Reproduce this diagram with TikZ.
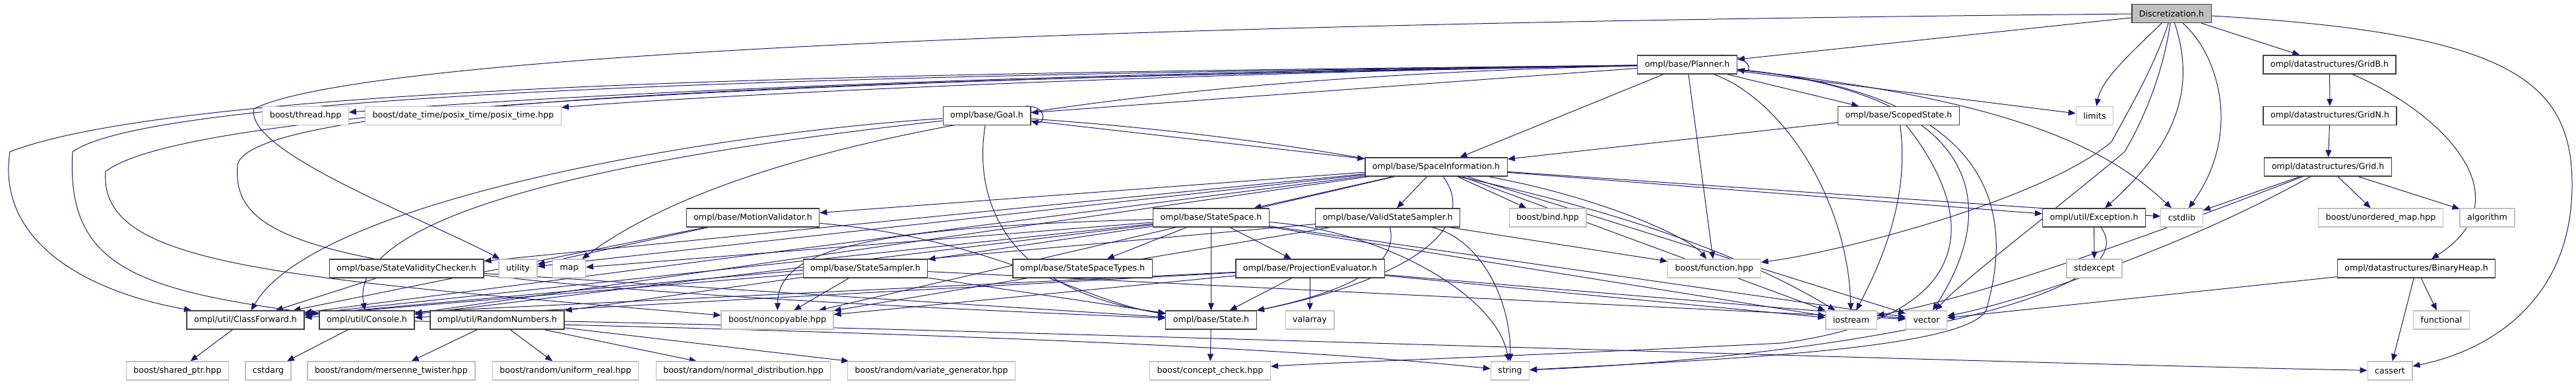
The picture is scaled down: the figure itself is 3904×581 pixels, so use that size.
\documentclass[tikz,border=0pt]{standalone}
\usepackage{fontspec}
\setmainfont{DejaVu Sans}
\usetikzlibrary{arrows.meta, backgrounds}
\definecolor{edgeblue}{HTML}{191970}
\definecolor{sysgray}{HTML}{BFBFBF}

\begin{document}
\begin{tikzpicture}[
    x=1pt, y=-1pt,
    box/.style={rectangle, line width=1.3pt, fill=white, minimum height=28pt, inner xsep=11pt, inner ysep=0pt, font=\fontsize{12.6}{14}\selectfont},
    hdr/.style={box, draw=black!75},
    sys/.style={box, draw=sysgray},
    root/.style={box, draw=black!75, fill=sysgray},
    dep/.style={draw=edgeblue, line width=1pt, -{Triangle[length=11pt,width=9pt]}}
]
    \useasboundingbox (0,0) rectangle (3904,581);

    % Root
    \node[root] (disc) at (3291,20.5) {Discretization.h};

    % Rank 1 and 2
    \node[hdr] (planner) at (2557,98) {ompl/base/Planner.h};
    \node[hdr] (gridb) at (3530.5,98) {ompl/datastructures/GridB.h};
    \node[sys] (thread) at (463,175.5) {boost/thread.hpp};
    \node[sys] (posix) at (702,175.5) {boost/date\_time/posix\_time/posix\_time.hpp};
    \node[hdr] (goal) at (1495.5,175.5) {ompl/base/Goal.h};
    \node[hdr] (scoped) at (2877.5,175.5) {ompl/base/ScopedState.h};
    \node[sys] (limits) at (3174.5,175.5) {limits};
    \node[hdr] (gridn) at (3531,175.5) {ompl/datastructures/GridN.h};

    % Rank 3 and 4
    \node[hdr] (spaceinfo) at (2176.5,253) {ompl/base/SpaceInformation.h};
    \node[hdr] (grid) at (3528,253) {ompl/datastructures/Grid.h};
    \node[hdr] (motion) at (1141,330) {ompl/base/MotionValidator.h};
    \node[hdr] (statespace) at (1835.5,330) {ompl/base/StateSpace.h};
    \node[hdr] (validsampler) at (2103,330) {ompl/base/ValidStateSampler.h};
    \node[sys] (bind) at (2345.5,330) {boost/bind.hpp};
    \node[hdr] (exception) at (3173.5,330) {ompl/util/Exception.h};
    \node[sys] (cstdlib) at (3306.5,330) {cstdlib};
    \node[sys] (umap) at (3608,330) {boost/unordered\_map.hpp};
    \node[sys] (algorithm) at (3769.5,330) {algorithm};

    % Rank 5
    \node[hdr] (svc) at (616,407) {ompl/base/StateValidityChecker.h};
    \node[sys] (utility) at (785,407) {utility};
    \node[sys] (map) at (862.5,407) {map};
    \node[hdr] (sampler) at (1311.5,407) {ompl/base/StateSampler.h};
    \node[hdr] (sstypes) at (1640.5,407) {ompl/base/StateSpaceTypes.h};
    \node[hdr] (projection) at (1985.5,407) {ompl/base/ProjectionEvaluator.h};
    \node[sys] (function) at (2598,407) {boost/function.hpp};
    \node[sys] (stdexcept) at (3174,407) {stdexcept};
    \node[hdr] (binheap) at (3662,407) {ompl/datastructures/BinaryHeap.h};

    % Rank 6
    \node[hdr] (classfwd) at (372,485) {ompl/util/ClassForward.h};
    \node[hdr] (console) at (556,485) {ompl/util/Console.h};
    \node[hdr] (random) at (753.5,485) {ompl/util/RandomNumbers.h};
    \node[sys] (noncopy) at (1178,485) {boost/noncopyable.hpp};
    \node[hdr] (state) at (1835.5,485) {ompl/base/State.h};
    \node[sys] (valarray) at (1985,485) {valarray};
    \node[sys] (iostream) at (2805.5,485) {iostream};
    \node[sys] (vector) at (2919.5,485) {vector};
    \node[sys] (functional) at (3700,485) {functional};

    % Rank 7
    \node[sys] (sharedptr) at (269,562) {boost/shared\_ptr.hpp};
    \node[sys] (cstdarg) at (406.5,562) {cstdarg};
    \node[sys] (mersenne) at (593,562) {boost/random/mersenne\_twister.hpp};
    \node[sys] (uniform) at (857,562) {boost/random/uniform\_real.hpp};
    \node[sys] (normal) at (1126.5,562) {boost/random/normal\_distribution.hpp};
    \node[sys] (variate) at (1411.5,562) {boost/random/variate\_generator.hpp};
    \node[sys] (concept) at (1834,562) {boost/concept\_check.hpp};
    \node[sys] (string) at (2288.5,562) {string};
    \node[sys] (cassert) at (3622,562) {cassert};

    \begin{scope}[on background layer]
    % Discretization.h
    \draw[dep] (disc) -- (planner);
    \draw[dep] (disc) -- (gridb);
    \draw[dep] (disc) .. controls (1200,40) and (500,105) .. (385,165) .. controls (370,230) and (640,330) .. (utility);
    \draw[dep] (disc) .. controls (3230,80) and (3185,120) .. (limits);
    \draw[dep] (disc) .. controls (3360,80) and (3400,200) .. (cstdlib);
    \draw[dep] (disc) .. controls (3320,110) and (3320,200) .. (exception);
    \draw[dep] (disc) .. controls (3280,100) and (3255,170) .. (3220,230) .. controls (3100,330) and (2980,420) .. (vector);
    \draw[dep] (disc) .. controls (3265,100) and (3230,160) .. (3200,215) .. controls (3100,300) and (2800,380) .. (function);
    \draw[dep] (disc) .. controls (3800,50) and (3898,120) .. (3898,280) .. controls (3898,450) and (3780,530) .. (cassert);

    % Planner.h
    \draw[dep] ([xshift=-25pt]planner.north east) .. controls +(45,0) and +(25,6) .. ([yshift=-7pt]planner.east);
    \draw[dep] (planner) -- (goal);
    \draw[dep] (planner) -- (spaceinfo);
    \draw[dep] (planner) -- (scoped);
    \draw[dep] (planner) -- (limits);
    \draw[dep] (planner) -- (function);
    \draw[dep] (planner) .. controls (2700,150) and (2800,300) .. (iostream);
    \draw[dep] (planner) .. controls (2990,140) and (3040,300) .. (vector);
    \draw[dep] (planner) .. controls (3060,150) and (3200,230) .. (cstdlib);
    \draw[dep] (planner) .. controls (3000,140) and (3060,300) .. (3010,470) .. controls (2980,530) and (2600,545) .. (string);
    \draw[dep] (planner) .. controls (1600,110) and (900,140) .. (thread);
    \draw[dep] (planner) .. controls (1600,115) and (1000,150) .. (posix);
    \draw[dep] (planner) .. controls (1500,110) and (300,120) .. (15,230) .. controls (-5,360) and (120,440) .. (classfwd);
    \draw[dep] (planner) .. controls (1500,112) and (250,130) .. (110,230) .. controls (100,400) and (200,440) .. (console);
    \draw[dep] (planner) .. controls (1500,115) and (300,150) .. (160,260) .. controls (150,400) and (400,420) .. (noncopy);
    \draw[dep] (planner) .. controls (1500,118) and (380,140) .. (360,250) .. controls (350,380) and (500,430) .. (state);
    \draw[dep] (planner) .. controls (1600,120) and (1100,230) .. (map);

    % Goal.h
    \draw[dep] ([xshift=-8pt]goal.north east) .. controls +(35,0) and +(20,5) .. ([yshift=-8pt]goal.east);
    \draw[dep] (goal) -- (spaceinfo);
    \draw[dep] (goal) .. controls (1475,300) and (1520,440) .. (state);
    \draw[dep] (goal) .. controls (1100,200) and (480,300) .. (classfwd);
    \draw[dep] (goal) .. controls (1100,220) and (520,300) .. (console);
    \draw[dep] (goal) .. controls (2000,210) and (2500,300) .. (iostream);

    % ScopedState.h
    \draw[dep] (scoped) -- (spaceinfo);
    \draw[dep] (scoped) .. controls (2895,300) and (2850,400) .. (iostream);
    \draw[dep] (scoped) .. controls (3000,330) and (3000,480) .. (2700,520) .. controls (2300,540) and (2000,550) .. (concept);

    % SpaceInformation.h
    \draw[dep] (spaceinfo) -- (motion);
    \draw[dep] (spaceinfo) -- (statespace);
    \draw[dep] (spaceinfo) -- (validsampler);
    \draw[dep] (spaceinfo) -- (bind);
    \draw[dep] (spaceinfo) .. controls (2430,300) and (2560,360) .. (function);
    \draw[dep] (spaceinfo) -- (exception);
    \draw[dep] (spaceinfo) -- (cstdlib);
    \draw[dep] (spaceinfo) -- (svc);
    \draw[dep] (spaceinfo) .. controls (2240,340) and (2150,420) .. (state);
    \draw[dep] (spaceinfo) -- (classfwd);
    \draw[dep] (spaceinfo) -- (console);
    \draw[dep] (spaceinfo) -- (noncopy);
    \draw[dep] (spaceinfo) -- (utility);
    \draw[dep] (spaceinfo) -- (vector);
    \draw[dep] (spaceinfo) -- (iostream);

    % MotionValidator.h and StateValidityChecker.h
    \draw[dep] (motion) -- (utility);
    \draw[dep] (motion) .. controls (1500,360) and (1650,460) .. (state);
    \draw[dep] (motion) -- (classfwd);
    \draw[dep] (svc) -- (classfwd);
    \draw[dep] (svc) -- (state);

    % StateSpace.h
    \draw[dep] (statespace) -- (state);
    \draw[dep] (statespace) -- (sstypes);
    \draw[dep] (statespace) -- (projection);
    \draw[dep] (statespace) -- (sampler);
    \draw[dep] (statespace) -- (map);
    \draw[dep] (statespace) .. controls (1300,345) and (1180,380) .. (noncopy);
    \draw[dep] (statespace) -- (classfwd);
    \draw[dep] (statespace) -- (console);
    \draw[dep] (statespace) .. controls (2100,350) and (2270,450) .. (string);
    \draw[dep] (statespace) -- (vector);
    \draw[dep] (statespace) -- (iostream);

    % StateSampler.h
    \draw[dep] (sampler) -- (state);
    \draw[dep] (sampler) -- (random);
    \draw[dep] (sampler) -- (classfwd);
    \draw[dep] (sampler) -- (noncopy);
    \draw[dep] (sampler) -- (vector);

    % ProjectionEvaluator.h
    \draw[dep] (projection) -- (state);
    \draw[dep] (projection) -- (valarray);
    \draw[dep] (projection) -- (classfwd);
    \draw[dep] (projection) -- (console);
    \draw[dep] (projection) -- (noncopy);
    \draw[dep] (projection) -- (vector);
    \draw[dep] (projection) -- (iostream);

    % ValidStateSampler.h
    \draw[dep] (validsampler) -- (function);
    \draw[dep] (validsampler) .. controls (2240,360) and (2290,450) .. (string);
    \draw[dep] (validsampler) .. controls (2120,400) and (2050,440) .. (state);
    \draw[dep] (validsampler) -- (classfwd);
    \draw[dep] (validsampler) -- (noncopy);

    % util headers
    \draw[dep] (state) -- (concept);
    \draw[dep] (classfwd) -- (sharedptr);
    \draw[dep] (console) -- (cstdarg);
    \draw[dep] (console) .. controls (1200,500) and (1900,520) .. (string);
    \draw[dep] (random) -- (mersenne);
    \draw[dep] (random) -- (uniform);
    \draw[dep] (random) -- (normal);
    \draw[dep] (random) -- (variate);
    \draw[dep] (random) .. controls (1500,500) and (3000,550) .. (cassert);
    \draw[dep] (exception) -- (stdexcept);
    \draw[dep] (exception) .. controls (3260,450) and (2800,540) .. (string);

    % Grid headers
    \draw[dep] (gridb) -- (gridn);
    \draw[dep] (gridb) .. controls (3700,170) and (3830,300) .. (binheap);
    \draw[dep] (gridn) -- (grid);
    \draw[dep] (grid) -- (cstdlib);
    \draw[dep] (grid) -- (umap);
    \draw[dep] (grid) -- (algorithm);
    \draw[dep] (grid) .. controls (3300,380) and (3050,460) .. (vector);
    \draw[dep] (grid) .. controls (3250,360) and (3000,450) .. (iostream);
    \draw[dep] (binheap) -- (functional);
    \draw[dep] (binheap) -- (cassert);
    \draw[dep] (binheap) -- (vector);
    \end{scope}
\end{tikzpicture}
\end{document}
